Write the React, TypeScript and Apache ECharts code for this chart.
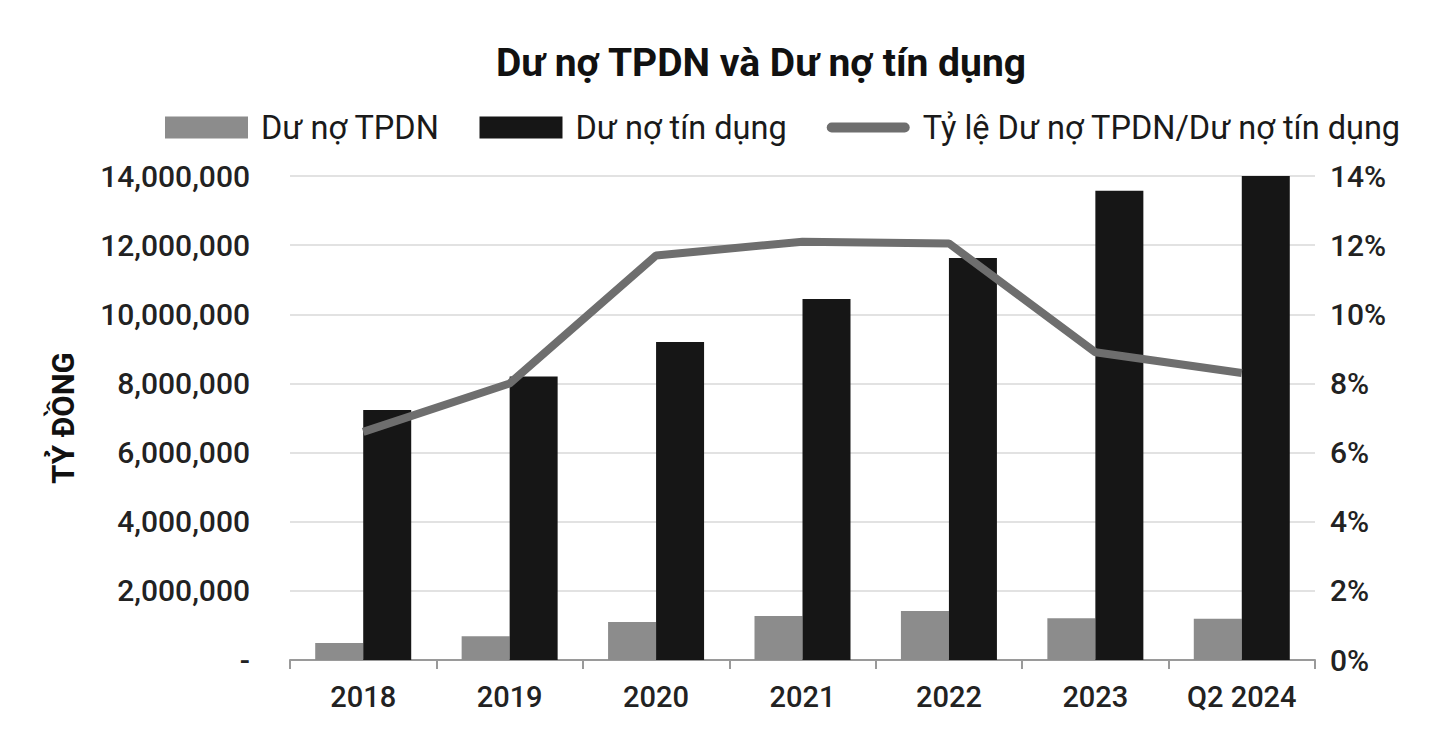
import React, { useEffect, useRef } from "react";
import * as echarts from "echarts";

const categories = ["2018", "2019", "2020", "2021", "2022", "2023", "Q2 2024"];
const tpdnDebt = [490000, 690000, 1100000, 1270000, 1420000, 1210000, 1190000];
const creditDebt = [7230000, 8200000, 9200000, 10440000, 11630000, 13570000, 14000000];
const ratioPct = [6.6, 8.0, 11.7, 12.1, 12.05, 8.9, 8.3];

const FONT = "Roboto, 'Noto Sans', sans-serif";
const LINE_ICON = "path://M5,0 L78,0 A5,5 0 0 1 78,10 L5,10 A5,5 0 0 1 5,0 Z";

export default function App() {
  const ref = useRef<HTMLDivElement>(null);
  useEffect(() => {
    if (!ref.current) return;
    const chart = echarts.init(ref.current, undefined, { renderer: "svg" });
    chart.setOption({
      animation: false,
      backgroundColor: "#ffffff",
      textStyle: { fontFamily: FONT },
      title: {
        text: "Dư nợ TPDN và Dư nợ tín dụng",
        left: 491,
        top: 38,
        textStyle: { fontFamily: FONT, fontSize: 39, fontWeight: "bold", color: "#111" },
      },
      legend: {
        top: 106,
        left: 160,
        itemWidth: 83,
        itemHeight: 22,
        itemGap: 40,
        symbolKeepAspect: true,
        textStyle: { fontFamily: FONT, fontSize: 32.5, color: "#1a1a1a", padding: [0, 0, 0, 8] },
        data: [
          { name: "Dư nợ TPDN", icon: "rect" },
          { name: "Dư nợ tín dụng", icon: "rect" },
          { name: "Tỷ lệ Dư nợ TPDN/Dư nợ tín dụng", icon: LINE_ICON },
        ],
      },
      grid: { left: 290, right: 126, top: 176, bottom: 94 },
      xAxis: {
        type: "category",
        data: categories,
        boundaryGap: true,
        axisLine: { lineStyle: { color: "#9a9a9a", width: 2 } },
        axisTick: { show: true, length: 9, lineStyle: { color: "#9a9a9a", width: 2 } },
        axisLabel: { fontFamily: FONT, fontSize: 29, fontWeight: 500, color: "#222", margin: 22 },
      },
      yAxis: [
        {
          type: "value",
          min: 0,
          max: 14000000,
          interval: 2000000,
          name: "TỶ ĐỒNG",
          nameLocation: "middle",
          nameGap: 211,
          nameRotate: 90,
          nameTextStyle: { fontFamily: FONT, fontSize: 31, fontWeight: "bold", color: "#111" },
          axisLine: { show: false },
          axisTick: { show: false },
          splitLine: { lineStyle: { color: "#e2e2e2", width: 2 } },
          axisLabel: {
            fontFamily: FONT,
            fontSize: 30,
            fontWeight: 500,
            color: "#222",
            margin: 40,
            formatter: (v: number) => (v === 0 ? "-" : v.toLocaleString("en-US")),
          },
        },
        {
          type: "value",
          min: 0,
          max: 14,
          interval: 2,
          axisLine: { show: false },
          axisTick: { show: false },
          splitLine: { show: false },
          axisLabel: {
            fontFamily: FONT,
            fontSize: 30,
            fontWeight: 500,
            color: "#222",
            margin: 15,
            formatter: (v: number) => `${v}%`,
          },
        },
      ],
      series: [
        {
          name: "Dư nợ TPDN",
          type: "bar",
          data: tpdnDebt,
          barWidth: 48,
          barGap: "0%",
          itemStyle: { color: "#8c8c8c" },
        },
        {
          name: "Dư nợ tín dụng",
          type: "bar",
          data: creditDebt,
          barWidth: 48,
          barGap: "0%",
          itemStyle: { color: "#161616" },
        },
        {
          name: "Tỷ lệ Dư nợ TPDN/Dư nợ tín dụng",
          type: "line",
          yAxisIndex: 1,
          data: ratioPct,
          symbol: "none",
          lineStyle: { color: "#6e6e6e", width: 8 },
          itemStyle: { color: "#6e6e6e" },
        },
      ],
    });
    return () => chart.dispose();
  }, []);
  return <div ref={ref} style={{ width: 1441, height: 754, position: "absolute", left: 0, top: 0 }} />;
}
